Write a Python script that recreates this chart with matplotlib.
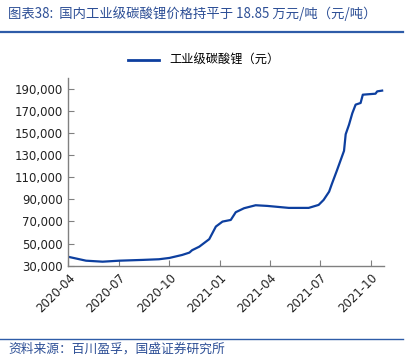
import pandas as pd
import matplotlib
matplotlib.use('Agg')
import matplotlib.pyplot as plt
from matplotlib.lines import Line2D
from matplotlib.ticker import FuncFormatter

plt.rcParams['font.family'] = ['DejaVu Sans', 'Noto Sans CJK SC']

# price of industrial-grade lithium carbonate (yuan/ton)
dates = ['2020-04-01', '2020-05-03', '2020-06-02', '2020-07-02', '2020-08-13',
         '2020-09-12', '2020-10-01', '2020-10-24', '2020-11-06', '2020-11-11',
         '2020-11-24', '2020-12-12', '2020-12-24', '2021-01-05', '2021-01-20',
         '2021-01-29', '2021-02-13', '2021-03-06', '2021-03-27', '2021-05-05',
         '2021-06-10', '2021-06-28', '2021-07-07', '2021-07-17', '2021-07-22',
         '2021-07-31', '2021-08-13', '2021-08-16', '2021-08-22', '2021-08-28',
         '2021-09-03', '2021-09-12', '2021-09-16', '2021-10-09', '2021-10-12',
         '2021-10-21']
price = [38000, 34500, 33600, 34500, 35200,
         35800, 37000, 39700, 41800, 44000,
         47200, 54000, 65400, 69900, 71400,
         78400, 82000, 84700, 84100, 82300,
         82300, 85000, 89500, 97000, 104000,
         116000, 134000, 149000, 157600, 168000,
         175800, 177300, 184800, 185700, 187800,
         188500]
xticks = ['2020-04', '2020-07', '2020-10', '2021-01', '2021-04', '2021-07', '2021-10']
yticks = list(range(30000, 200001, 20000))

blue_text = '#2D4F96'
line_color = '#0D3F9F'

x = pd.to_datetime(dates)

fig = plt.figure(figsize=(4.07, 3.59), dpi=100)
ax = fig.add_axes([0.168, 0.26, 0.775, 0.523])
ax.plot(x, price, color=line_color, lw=1.6)

ax.set_ylim(30000, 200000)
ax.set_yticks(yticks)
ax.yaxis.set_major_formatter(FuncFormatter(lambda v, p: f'{int(v):,}'))
ax.set_xlim(pd.Timestamp('2020-04-01'), pd.Timestamp('2021-10-24'))
ax.set_xticks(pd.to_datetime(xticks))
ax.set_xticklabels(xticks, rotation=45, ha='right', rotation_mode='anchor')

for s in ['top', 'right']:
    ax.spines[s].set_visible(False)
for s in ['left', 'bottom']:
    ax.spines[s].set_color('#808080')
    ax.spines[s].set_linewidth(1.0)
ax.tick_params(direction='in', length=4, color='#808080', labelsize=8.5,
               labelcolor='#222222', pad=4)

# legend at top
h = Line2D([], [], color=line_color, lw=2)
fig.legend([h], ['工业级碳酸锂（元）'], loc='center', bbox_to_anchor=(0.5, 0.832),
           frameon=False, handlelength=2.6,
           prop={'family': ['Noto Sans CJK SC'], 'size': 8.8})

# title and footer
fig.text(0.02, 0.962, '图表38:  国内工业级碳酸锂价格持平于 18.85 万元/吨（元/吨）',
         color=blue_text, fontsize=9.6, va='center', ha='left',
         family=['Noto Sans CJK SC', 'DejaVu Sans'])
fig.add_artist(Line2D([0.0, 0.99], [0.91, 0.91], color='#2E5CA8', lw=1.6))
fig.add_artist(Line2D([0.0, 0.99], [0.057, 0.057], color='#2E5CA8', lw=1.0))
fig.text(0.02, 0.027, '资料来源：百川盈孚，国盛证券研究所',
         color=blue_text, fontsize=9.2, va='center', ha='left',
         family=['Noto Sans CJK SC', 'DejaVu Sans'])

fig.savefig('out.png', dpi=100)
